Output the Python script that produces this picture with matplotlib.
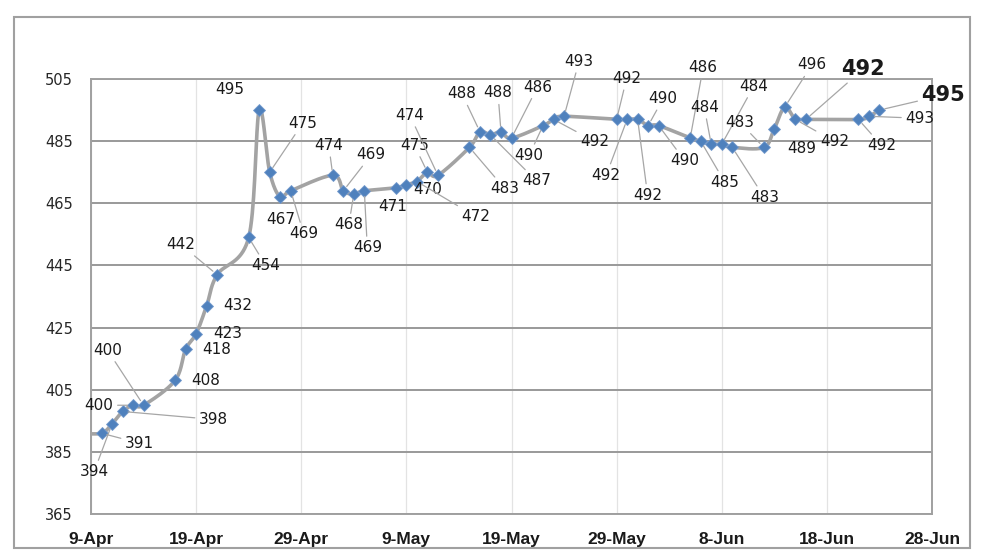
import numpy as np
import pandas as pd
import matplotlib
matplotlib.use("Agg")
import matplotlib.pyplot as plt
import matplotlib.dates as mdates
from matplotlib.patches import Rectangle

# data
dates = ['2021-04-08', '2021-04-10', '2021-04-11', '2021-04-12', '2021-04-13', '2021-04-14',
         '2021-04-17', '2021-04-18', '2021-04-19', '2021-04-20', '2021-04-21', '2021-04-24',
         '2021-04-25', '2021-04-26', '2021-04-27', '2021-04-28', '2021-05-02', '2021-05-03',
         '2021-05-04', '2021-05-05', '2021-05-08', '2021-05-09', '2021-05-10', '2021-05-11',
         '2021-05-12', '2021-05-15', '2021-05-16', '2021-05-17', '2021-05-18', '2021-05-19',
         '2021-05-22', '2021-05-23', '2021-05-24', '2021-05-29', '2021-05-30', '2021-05-31',
         '2021-06-01', '2021-06-02', '2021-06-05', '2021-06-06', '2021-06-07', '2021-06-08',
         '2021-06-09', '2021-06-12', '2021-06-13', '2021-06-14', '2021-06-15', '2021-06-16',
         '2021-06-21', '2021-06-22', '2021-06-23']
values = [391, 391, 394, 398, 400, 400, 408, 418, 423, 432, 442, 454, 495, 475, 467, 469,
          474, 469, 468, 469, 470, 471, 472, 475, 474, 483, 488, 487, 488, 486, 490, 492,
          493, 492, 492, 492, 490, 490, 486, 485, 484, 484, 483, 483, 489, 496, 492, 492,
          492, 493, 495]
tick_dates = ['2021-04-09', '2021-04-19', '2021-04-29', '2021-05-09', '2021-05-19',
              '2021-05-29', '2021-06-08', '2021-06-18', '2021-06-28']
tick_labels = ['9-Apr', '19-Apr', '29-Apr', '9-May', '19-May', '29-May', '8-Jun', '18-Jun', '28-Jun']
y_ticks = [365, 385, 405, 425, 445, 465, 485, 505]

# label placement (pixel offsets from the point, leader line on/off); None = no label
label_pos = [None, (38, -10, 1), (-18, -48, 1), (91, -8, 1), (-34, 0, 1), (-36, 55, 1),
             (31, 0, 0), (31, 0, 0), (32, 0, 0), (31, 0, 0), (-36, 30, 1), (17, -28, 1),
             (-29, 21, 0), (33, 49, 1), (1, -22, 0), (13, -43, 1), (-4, 30, 1), (28, 36, 1),
             (-5, -31, 1), (3, -57, 1), (32, -2, 0), (-14, -22, 0), (59, -35, 1), (-13, 27, 1),
             (-28, 60, 1), (35, -41, 1), (-18, 38, 1), (46, -46, 1), (-3, 39, 1), (26, 51, 1),
             (-14, -30, 1), (41, -22, 1), (15, 55, 1), (10, 41, 1), (-21, -56, 1), (10, -76, 1),
             (15, 27, 1), (26, -35, 1), (13, 71, 1), (24, -41, 1), (-7, 37, 1), (32, 58, 1),
             (32, -50, 1), (-24, 25, 1), (27, -20, 0), (27, 42, 1), (39, -22, 1), (57, 50, 1),
             (23, -26, 1), (51, -2, 1), (64, 15, 1)]
big_labels = [47, 50]

x = mdates.date2num(pd.to_datetime(dates))
y = np.array(values, dtype=float)


def smooth(xs, ys, n=20):
    # Catmull-Rom style bezier smoothing like Excel's smoothed line
    px, py = [], []
    m = len(xs)
    for i in range(m - 1):
        x0, y0 = (xs[i - 1], ys[i - 1]) if i > 0 else (xs[i], ys[i])
        x3, y3 = (xs[i + 2], ys[i + 2]) if i + 2 < m else (xs[i + 1], ys[i + 1])
        c1x = xs[i] + (xs[i + 1] - x0) / 6
        c1y = ys[i] + (ys[i + 1] - y0) / 6
        c2x = xs[i + 1] - (x3 - xs[i]) / 6
        c2y = ys[i + 1] - (y3 - ys[i]) / 6
        t = np.linspace(0, 1, n)
        px.extend((1 - t) ** 3 * xs[i] + 3 * (1 - t) ** 2 * t * c1x + 3 * (1 - t) * t ** 2 * c2x + t ** 3 * xs[i + 1])
        py.extend((1 - t) ** 3 * ys[i] + 3 * (1 - t) ** 2 * t * c1y + 3 * (1 - t) * t ** 2 * c2y + t ** 3 * ys[i + 1])
    return px, py


fig = plt.figure(figsize=(9.81, 5.56), dpi=100)
fig.patches.append(Rectangle((14 / 981, 8 / 556), 956 / 981, 531 / 556, transform=fig.transFigure,
                             fill=False, edgecolor='#a0a0a0', lw=1.5))
ax = fig.add_axes([91 / 981, 1 - 514 / 556, 841 / 981, 435 / 556])

sx, sy = smooth(x, y)
ax.plot(sx, sy, color='#a3a3a3', lw=2.6, zorder=3, solid_capstyle='round')
ax.plot(x, y, linestyle='none', marker='D', ms=6, color='#4f81bd',
        markeredgecolor='#7399cc', mew=0.6, zorder=4)

for i, pos in enumerate(label_pos):
    if pos is None:
        continue
    dx, dy, lead = pos
    big = i in big_labels
    ap = dict(arrowstyle='-', color='#a6a6a6', lw=0.9, shrinkA=1, shrinkB=4) if lead else None
    ax.annotate(str(values[i]), xy=(x[i], y[i]), xytext=(dx, dy), textcoords='offset pixels',
                ha='center', va='center', fontsize=15 if big else 11,
                fontweight='bold' if big else 'normal', color='#1a1a1a',
                arrowprops=ap, zorder=5, annotation_clip=False)

xt = mdates.date2num(pd.to_datetime(tick_dates))
ax.set_xlim(xt[0], xt[-1])
ax.set_ylim(365, 505)
ax.set_xticks(xt)
ax.set_xticklabels(tick_labels, fontweight='bold', fontsize=12.5, family='Liberation Sans',
                   color='#1a1a1a')
ax.set_yticks(y_ticks)
ax.set_yticklabels([str(v) for v in y_ticks], fontsize=10.5, color='#262626')
ax.tick_params(axis='both', length=0)
ax.tick_params(axis='x', pad=13)
ax.tick_params(axis='y', pad=13)

ax.grid(axis='y', color='#999999', lw=1.4, zorder=0)
ax.grid(axis='x', color='#e3e3e3', lw=0.9, zorder=0)
ax.set_axisbelow(True)
for s in ax.spines.values():
    s.set_color('#a0a0a0')
    s.set_linewidth(1.4)

fig.savefig('out.png', dpi=100)
